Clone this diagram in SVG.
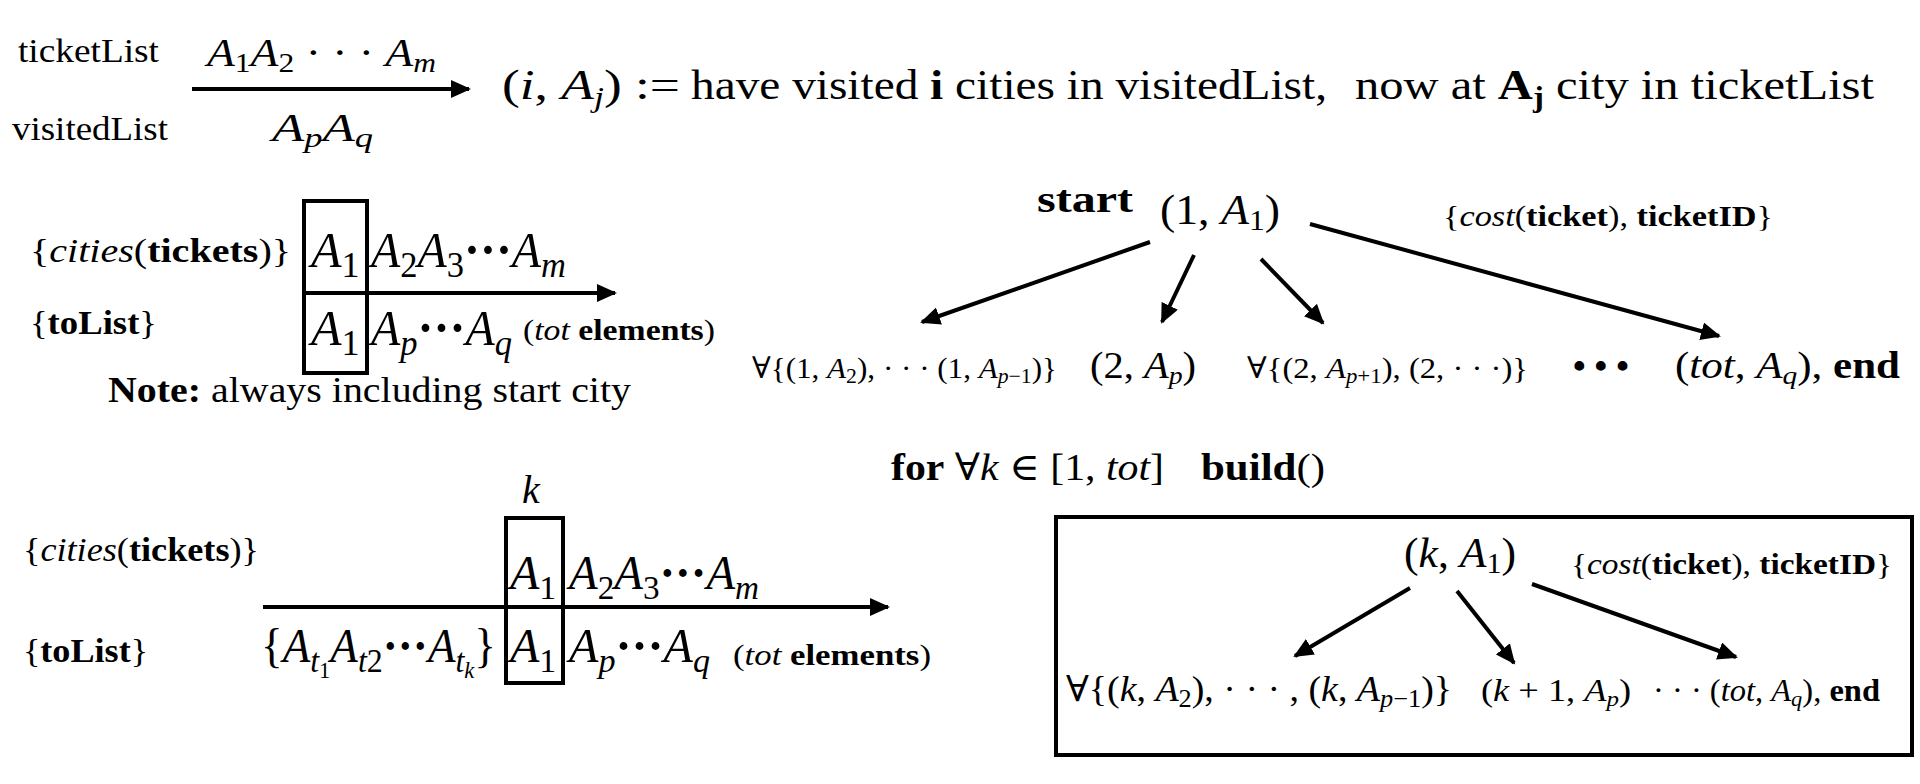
<svg xmlns="http://www.w3.org/2000/svg" width="1920" height="784" viewBox="0 0 1920 784">
<style>
text{font-family:"Liberation Serif","DejaVu Serif",serif;fill:#000}
.i{font-style:italic}
.b{font-weight:bold}
.ln{stroke:#000;stroke-width:4;fill:none}
.bx{stroke:#000;stroke-width:4;fill:none}
</style>
<defs>
<marker id="ah" markerUnits="userSpaceOnUse" markerWidth="22" markerHeight="18" refX="18" refY="9" orient="auto">
<path d="M0,0 L20,9 L0,18 z" fill="#000"/>
</marker>
</defs>
<rect width="1920" height="784" fill="#fff"/>

<g id="legend">
<text x="18" y="62" font-size="33" textLength="141" lengthAdjust="spacingAndGlyphs">ticketList</text>
<text x="12" y="140" font-size="33" textLength="156" lengthAdjust="spacingAndGlyphs">visitedList</text>
<text x="207" y="66" font-size="39" textLength="229" lengthAdjust="spacingAndGlyphs"><tspan class="i">A</tspan><tspan font-size="27" dy="6">1</tspan><tspan class="i" dy="-6">A</tspan><tspan font-size="27" dy="6">2</tspan><tspan dy="-6"> · · · </tspan><tspan class="i">A</tspan><tspan class="i" font-size="27" dy="6">m</tspan></text>
<text x="272" y="141" font-size="39" textLength="101" lengthAdjust="spacingAndGlyphs"><tspan class="i">A</tspan><tspan class="i" font-size="27" dy="6">p</tspan><tspan class="i" dy="-6">A</tspan><tspan class="i" font-size="27" dy="6">q</tspan></text>
<text x="502" y="99" font-size="43" textLength="178" lengthAdjust="spacingAndGlyphs">(<tspan class="i">i</tspan>, <tspan class="i">A</tspan><tspan class="i" font-size="29" dy="8">j</tspan><tspan dy="-8">) :=</tspan></text>
<text x="691" y="99" font-size="43" textLength="636" lengthAdjust="spacingAndGlyphs">have visited <tspan class="b">i</tspan> cities in visitedList,</text>
<text x="1355" y="99" font-size="43" textLength="519" lengthAdjust="spacingAndGlyphs">now at <tspan class="b">A</tspan><tspan class="b" font-size="29" dy="8">j</tspan><tspan dy="-8"> city in ticketList</tspan></text>
</g>

<g id="list1">
<rect class="bx" x="304" y="201" width="63" height="172" stroke-width="3.5"/>
<text x="30" y="262" font-size="33" textLength="261" lengthAdjust="spacingAndGlyphs">{<tspan class="i">cities</tspan>(<tspan class="b">tickets</tspan>)}</text>
<text x="311" y="267" font-size="50"><tspan class="i">A</tspan><tspan font-size="36" dy="10">1</tspan></text>
<text x="371" y="267" font-size="50" textLength="195" lengthAdjust="spacingAndGlyphs"><tspan class="i">A</tspan><tspan font-size="36" dy="10">2</tspan><tspan class="i" dy="-10">A</tspan><tspan font-size="36" dy="10">3</tspan><tspan dy="-10" class="b">···</tspan><tspan class="i">A</tspan><tspan class="i" font-size="36" dy="10">m</tspan></text>
<text x="30" y="334" font-size="33" textLength="127" lengthAdjust="spacingAndGlyphs">{<tspan class="b">toList</tspan>}</text>
<text x="311" y="345" font-size="50"><tspan class="i">A</tspan><tspan font-size="36" dy="10">1</tspan></text>
<text x="371" y="345" font-size="50" textLength="141" lengthAdjust="spacingAndGlyphs"><tspan class="i">A</tspan><tspan class="i" font-size="36" dy="10">p</tspan><tspan dy="-10" class="b">···</tspan><tspan class="i">A</tspan><tspan class="i" font-size="36" dy="10">q</tspan></text>
<text x="523" y="340" font-size="30" textLength="192" lengthAdjust="spacingAndGlyphs">(<tspan class="i">tot</tspan> <tspan class="b">elements</tspan>)</text>
<text x="108" y="402" font-size="35" textLength="523" lengthAdjust="spacingAndGlyphs"><tspan class="b">Note:</tspan> always including start city</text>
</g>

<g id="tree1-root">
<text x="1037" y="212" font-size="38" class="b" textLength="96" lengthAdjust="spacingAndGlyphs">start</text>
<text x="1160" y="224" font-size="42" textLength="120" lengthAdjust="spacingAndGlyphs">(1, <tspan class="i">A</tspan><tspan font-size="29" dy="6">1</tspan><tspan dy="-6">)</tspan></text>
<text x="1443" y="226" font-size="30" textLength="330" lengthAdjust="spacingAndGlyphs">{<tspan class="i">cost</tspan>(<tspan class="b">ticket</tspan>), <tspan class="b">ticketID</tspan>}</text>
</g>
<g id="tree1-c1"><text x="752" y="378" font-size="30" textLength="305" lengthAdjust="spacingAndGlyphs">∀{(1, <tspan class="i">A</tspan><tspan font-size="21" dy="5">2</tspan><tspan dy="-5">), · · · (1, </tspan><tspan class="i">A</tspan><tspan class="i" font-size="21" dy="5">p</tspan><tspan font-size="21">−1</tspan><tspan dy="-5">)}</tspan></text></g>
<g id="tree1-c2"><text x="1090" y="378" font-size="38" textLength="106" lengthAdjust="spacingAndGlyphs">(2, <tspan class="i">A</tspan><tspan class="i" font-size="26" dy="6">p</tspan><tspan dy="-6">)</tspan></text></g>
<g id="tree1-c3"><text x="1247" y="378" font-size="30" textLength="281" lengthAdjust="spacingAndGlyphs">∀{(2, <tspan class="i">A</tspan><tspan class="i" font-size="21" dy="5">p</tspan><tspan font-size="21">+1</tspan><tspan dy="-5">), (2, · · ·)}</tspan></text></g>
<g id="tree1-dots"><text x="1573" y="378" font-size="36" class="b">• • •</text></g>
<g id="tree1-c4"><text x="1675" y="378" font-size="38" textLength="225" lengthAdjust="spacingAndGlyphs">(<tspan class="i">tot</tspan>, <tspan class="i">A</tspan><tspan class="i" font-size="26" dy="6">q</tspan><tspan dy="-6">), </tspan><tspan class="b">end</tspan></text></g>

<g id="list2">
<text x="522" y="503" font-size="40" class="i">k</text>
<rect class="bx" x="506" y="518" width="57" height="165" stroke-width="3.5"/>
<text x="23" y="561" font-size="33" textLength="236" lengthAdjust="spacingAndGlyphs">{<tspan class="i">cities</tspan>(<tspan class="b">tickets</tspan>)}</text>
<text x="510" y="589" font-size="48"><tspan class="i">A</tspan><tspan font-size="34" dy="10">1</tspan></text>
<text x="569" y="589" font-size="48" textLength="190" lengthAdjust="spacingAndGlyphs"><tspan class="i">A</tspan><tspan font-size="34" dy="10">2</tspan><tspan class="i" dy="-10">A</tspan><tspan font-size="34" dy="10">3</tspan><tspan dy="-10" class="b">···</tspan><tspan class="i">A</tspan><tspan class="i" font-size="34" dy="10">m</tspan></text>
<text x="23" y="662" font-size="33" textLength="125" lengthAdjust="spacingAndGlyphs">{<tspan class="b">toList</tspan>}</text>
<text x="261" y="662" font-size="48" textLength="235" lengthAdjust="spacingAndGlyphs">{<tspan class="i">A</tspan><tspan class="i" font-size="34" dy="10">t</tspan><tspan font-size="24" dy="6">1</tspan><tspan class="i" dy="-16">A</tspan><tspan class="i" font-size="34" dy="10">t</tspan><tspan font-size="34">2</tspan><tspan dy="-10" class="b">···</tspan><tspan class="i">A</tspan><tspan class="i" font-size="34" dy="10">t</tspan><tspan class="i" font-size="24" dy="6">k</tspan><tspan dy="-16">}</tspan></text>
<text x="510" y="662" font-size="48"><tspan class="i">A</tspan><tspan font-size="34" dy="10">1</tspan></text>
<text x="569" y="662" font-size="48" textLength="141" lengthAdjust="spacingAndGlyphs"><tspan class="i">A</tspan><tspan class="i" font-size="34" dy="10">p</tspan><tspan dy="-10" class="b">···</tspan><tspan class="i">A</tspan><tspan class="i" font-size="34" dy="10">q</tspan></text>
<text x="733" y="665" font-size="30" textLength="198" lengthAdjust="spacingAndGlyphs">(<tspan class="i">tot</tspan> <tspan class="b">elements</tspan>)</text>
</g>

<g id="loop-label">
<text x="891" y="480" font-size="38" textLength="273" lengthAdjust="spacingAndGlyphs"><tspan class="b">for</tspan> ∀<tspan class="i">k</tspan> ∈ [1, <tspan class="i">tot</tspan>]</text>
<text x="1201" y="480" font-size="38" textLength="124" lengthAdjust="spacingAndGlyphs"><tspan class="b">build</tspan>()</text>
</g>

<g id="build-box">
<rect class="bx" x="1056" y="517" width="856" height="238"/>
</g>
<g id="tree2-root">
<text x="1404" y="567" font-size="42" textLength="112" lengthAdjust="spacingAndGlyphs">(<tspan class="i">k</tspan>, <tspan class="i">A</tspan><tspan font-size="29" dy="6">1</tspan><tspan dy="-6">)</tspan></text>
<text x="1571" y="574" font-size="30" textLength="321" lengthAdjust="spacingAndGlyphs">{<tspan class="i">cost</tspan>(<tspan class="b">ticket</tspan>), <tspan class="b">ticketID</tspan>}</text>
</g>
<g id="tree2-c1"><text x="1066" y="701" font-size="36" textLength="386" lengthAdjust="spacingAndGlyphs">∀{(<tspan class="i">k</tspan>, <tspan class="i">A</tspan><tspan font-size="25" dy="6">2</tspan><tspan dy="-6">), · · · , (</tspan><tspan class="i">k</tspan>, <tspan class="i">A</tspan><tspan class="i" font-size="25" dy="6">p</tspan><tspan font-size="25">−1</tspan><tspan dy="-6">)}</tspan></text></g>
<g id="tree2-c2"><text x="1481" y="701" font-size="32" textLength="150" lengthAdjust="spacingAndGlyphs">(<tspan class="i">k</tspan> + 1, <tspan class="i">A</tspan><tspan class="i" font-size="22" dy="5">p</tspan><tspan dy="-5">)</tspan></text></g>
<g id="tree2-c3"><text x="1653" y="701" font-size="32" textLength="227" lengthAdjust="spacingAndGlyphs">· · · (<tspan class="i">tot</tspan>, <tspan class="i">A</tspan><tspan class="i" font-size="22" dy="5">q</tspan><tspan dy="-5">), </tspan><tspan class="b">end</tspan></text></g>

<g id="connectors">
<line class="ln" x1="192" y1="89" x2="469" y2="89" marker-end="url(#ah)"/>
<line class="ln" x1="304" y1="293" x2="615" y2="293" marker-end="url(#ah)"/>
<line class="ln" x1="263" y1="607" x2="888" y2="607" marker-end="url(#ah)"/>
<line class="ln" x1="1150" y1="242" x2="922" y2="322" marker-end="url(#ah)"/>
<line class="ln" x1="1194" y1="255" x2="1162" y2="322" marker-end="url(#ah)"/>
<line class="ln" x1="1261" y1="259" x2="1323" y2="323" marker-end="url(#ah)"/>
<line class="ln" x1="1310" y1="224" x2="1719" y2="336" marker-end="url(#ah)"/>
<line class="ln" x1="1410" y1="588" x2="1295" y2="656" marker-end="url(#ah)"/>
<line class="ln" x1="1457" y1="591" x2="1514" y2="663" marker-end="url(#ah)"/>
<line class="ln" x1="1532" y1="584" x2="1736" y2="657" marker-end="url(#ah)"/>
</g>
</svg>
